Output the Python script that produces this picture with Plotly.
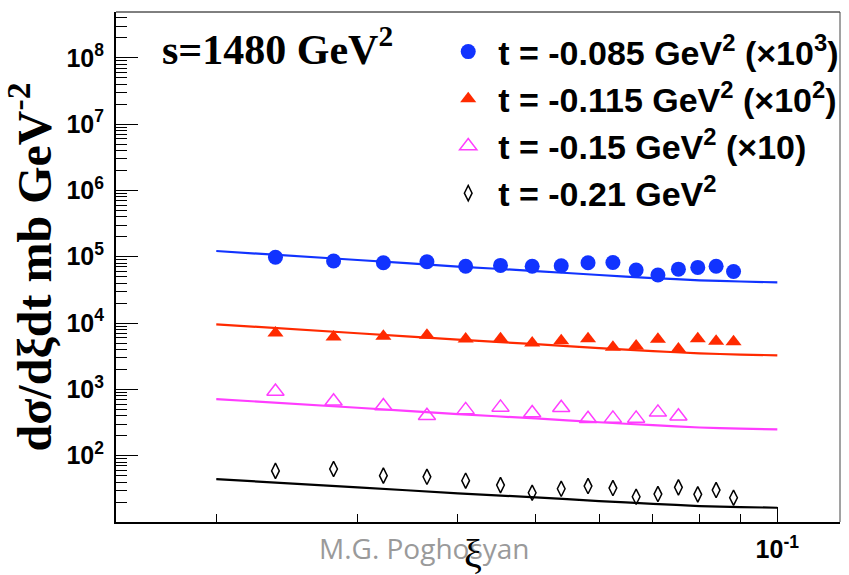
import plotly.graph_objects as go

# ---- data ----
xi_pts = [0.0237, 0.0280, 0.0323, 0.0366, 0.0409, 0.0452, 0.0495, 0.0538,
          0.0581, 0.0624, 0.0667, 0.0710, 0.0753, 0.0796, 0.0839, 0.0882]
t085 = [98000, 86000, 81000, 84000, 72000, 74000, 72000, 73000,
        81000, 82000, 63000, 53000, 65000, 69000, 72000, 60000]
t115 = [7060, 6150, 6300, 6520, 5740, 5800, 4990, 5410,
        5800, 4300, 4500, 5680, 4060, 5800, 5300, 5220]
t150 = [930, 660, 560, 400, 490, 535, 440, 528, 360, 365, 365, 450, 392]
t210 = [59, 63, 50, 48, 42, 36, 27.6, 31.7,
        34.8, 32.5, 24, 26.4, 33.3, 26.1, 30.3, 23.2]

xi_curve = [0.02, 0.03, 0.04, 0.05, 0.06, 0.07, 0.08, 0.09, 0.10]
c085 = [122000, 89200, 71100, 60800, 53000, 47700, 44100, 42300, 41100]
c115 = [9560, 7020, 5620, 4810, 4180, 3780, 3490, 3350, 3260]
c150 = [714, 528, 424, 364, 319, 288, 266, 256, 249]
c210 = [44.4, 33.3, 27.1, 23.5, 20.7, 18.8, 17.4, 16.8, 16.4]

labels = [
    "t = -0.085 GeV<sup>2</sup> (×10<sup>3</sup>)",
    "t = -0.115 GeV<sup>2</sup> (×10<sup>2</sup>)",
    "t = -0.15 GeV<sup>2</sup> (×10)",
    "t = -0.21 GeV<sup>2</sup>",
]
y_major = [1e2, 1e3, 1e4, 1e5, 1e6, 1e7, 1e8]
y_major_text = ["10<sup>%d</sup>" % k for k in range(2, 9)]
y_minor = [m * 10 ** k for k in range(1, 9) for m in range(2, 10)]
x_major = [0.1]
x_major_text = ["10<sup>-1</sup>"]
x_minor = [0.02, 0.03, 0.04, 0.05, 0.06, 0.07, 0.08, 0.09]

BLUE = "#1133ff"
RED = "#ff2a00"
MAG = "#ff3dff"
BLK = "#000000"

fig = go.Figure()

for yc, col in [(c085, BLUE), (c115, RED), (c150, MAG), (c210, BLK)]:
    fig.add_trace(go.Scatter(x=xi_curve, y=yc, mode="lines",
                             line=dict(color=col, width=2.2, shape="spline", smoothing=0.6),
                             showlegend=False, hoverinfo="skip"))

fig.add_trace(go.Scatter(x=xi_pts, y=t085, mode="markers", name=labels[0],
                         marker=dict(symbol="circle", size=15, color=BLUE)))
fig.add_trace(go.Scatter(x=xi_pts, y=t115, mode="markers", name=labels[1],
                         marker=dict(symbol="triangle-up", size=14, color=RED)))
fig.add_trace(go.Scatter(x=xi_pts[:len(t150)], y=t150, mode="markers", name=labels[2],
                         marker=dict(symbol="triangle-up-open", size=15, color=MAG,
                                     line=dict(width=1.5, color=MAG))))
fig.add_trace(go.Scatter(x=xi_pts, y=t210, mode="markers", name=labels[3],
                         marker=dict(symbol="diamond-tall-open", size=11, color=BLK,
                                     line=dict(width=1.5, color=BLK))))

tick_font = dict(family="Liberation Sans", size=25, color="black", weight="bold")

fig.update_layout(
    width=849, height=575,
    margin=dict(l=116, r=5, t=12, b=53),
    paper_bgcolor="white", plot_bgcolor="white",
    showlegend=True,
    legend=dict(x=(440 - 116) / 728, y=1 - (23 - 12) / 510, xanchor="left", yanchor="top",
                bgcolor="rgba(0,0,0,0)", borderwidth=0,
                font=dict(family="Liberation Sans", size=34, color="black", weight="bold"),
                itemwidth=50, tracegroupgap=0),
    xaxis=dict(type="log", range=[-1.8239, -0.9219],
               showline=True, linecolor="black", linewidth=2,
               showgrid=False, zeroline=False,
               tickmode="array", tickvals=x_major, ticktext=x_major_text,
               ticks="inside", ticklen=15, tickwidth=1, tickcolor="black",
               tickfont=tick_font, ticklabelstandoff=4,
               minor=dict(tickmode="array", tickvals=x_minor, ticks="inside",
                          ticklen=8, tickwidth=1, tickcolor="black", showgrid=False)),
    yaxis=dict(type="log", range=[1, 8.69],
               showline=True, linecolor="black", linewidth=2,
               showgrid=False, zeroline=False,
               tickmode="array", tickvals=y_major, ticktext=y_major_text,
               ticks="inside", ticklen=22, tickwidth=1.2, tickcolor="black",
               tickfont=tick_font, ticklabelstandoff=5,
               minor=dict(tickmode="array", tickvals=y_minor, ticks="inside",
                          ticklen=11, tickwidth=1, tickcolor="black", showgrid=False),
               title=dict(text="dσ/dξdt mb GeV<sup>-2</sup>",
                          font=dict(family="Liberation Serif", size=48, color="black",
                                    weight="bold"),
                          standoff=0)),
)

# frame top/right
fig.add_shape(type="line", xref="paper", yref="paper", x0=0, x1=1, y0=1, y1=1,
              line=dict(color="black", width=1))
fig.add_shape(type="line", xref="paper", yref="paper", x0=1, x1=1, y0=0, y1=1,
              line=dict(color="#444444", width=1))

fig.add_annotation(text="s=1480 GeV<sup>2</sup>", xref="paper", yref="paper",
                   x=(160 - 116) / 728, y=1 - (18 - 12) / 510, xanchor="left", yanchor="top",
                   showarrow=False,
                   font=dict(family="Liberation Serif", size=42, color="black", weight="bold"))
fig.add_annotation(text="M.G. Poghosyan", xref="paper", yref="paper",
                   x=(426 - 116) / 728, y=-(548 - 522) / 510, xanchor="center", yanchor="middle",
                   showarrow=False,
                   font=dict(family="Open Sans", size=28, color="#9a9a9a"))
fig.add_annotation(text="ξ", xref="paper", yref="paper",
                   x=(475 - 116) / 728, y=-(553 - 522) / 510, xanchor="center", yanchor="middle",
                   showarrow=False,
                   font=dict(family="Liberation Serif", size=40, color="black"))

fig.write_html("out.html")
